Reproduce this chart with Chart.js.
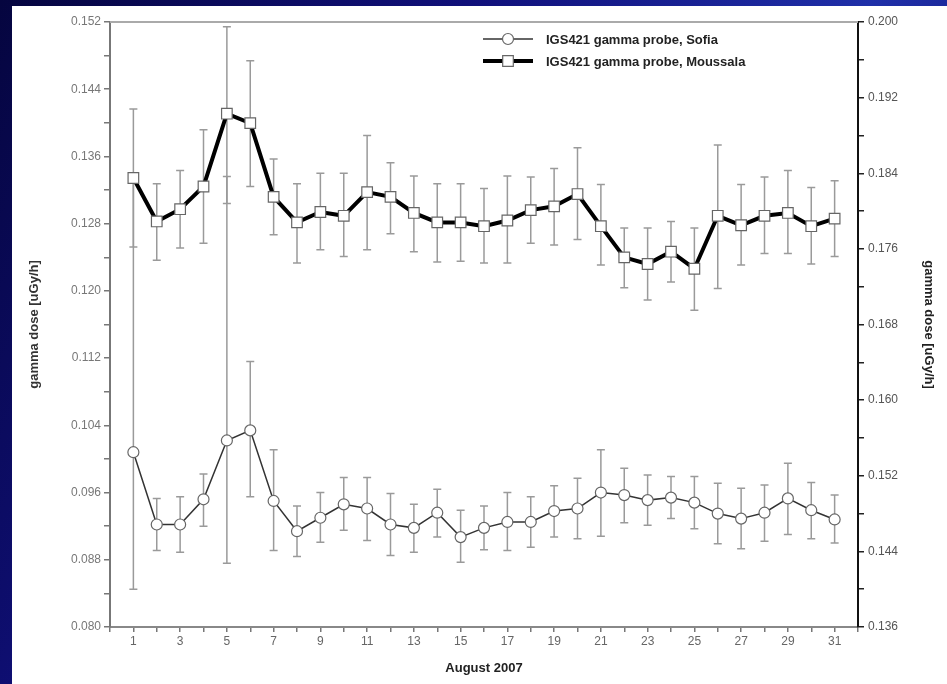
<!DOCTYPE html>
<html>
<head>
<meta charset="utf-8">
<script src="https://cdn.jsdelivr.net/npm/chart.js@4.4.1/dist/chart.umd.min.js"></script>
<style>
    html, body { margin: 0; padding: 0; }
    body {
        width: 947px;
        height: 684px;
        overflow: hidden;
        position: relative;
        background: linear-gradient(120deg, #05053f 0%, #10107a 35%, #1f2fa8 65%, #0c0c66 100%);
    }
    #wrap {
        position: absolute;
        left: 12px;
        top: 6px;
        width: 935px;
        height: 678px;
        background: #fff;
    }
</style>
</head>
<body>
<div id="wrap"><canvas id="doseChart"></canvas></div>
<script>
// --- DATA ---
const days = [1, 2, 3, 4, 5, 6, 7, 8, 9, 10, 11, 12, 13, 14, 15, 16, 17, 18, 19, 20, 21, 22, 23, 24, 25, 26, 27, 28, 29, 30, 31];

// Sofia (left axis)
const sofiaDose = [0.1008, 0.0922, 0.0922, 0.0952, 0.1022, 0.1034, 0.0950, 0.0914, 0.0930, 0.0946, 0.0941, 0.0922, 0.0918, 0.0936, 0.0907, 0.0918, 0.0925, 0.0925, 0.0938, 0.0941, 0.0960, 0.0957, 0.0951, 0.0954, 0.0948, 0.0935, 0.0929, 0.0936, 0.0953, 0.0939, 0.0928];
const sofiaHigh = [0.1338, 0.0953, 0.0955, 0.0982, 0.1336, 0.1116, 0.1011, 0.0944, 0.0960, 0.0978, 0.0978, 0.0959, 0.0946, 0.0964, 0.0939, 0.0944, 0.0960, 0.0955, 0.0968, 0.0977, 0.1011, 0.0989, 0.0981, 0.0979, 0.0979, 0.0971, 0.0965, 0.0969, 0.0995, 0.0972, 0.0957];
const sofiaLow = [0.0845, 0.0891, 0.0889, 0.0920, 0.0876, 0.0955, 0.0891, 0.0884, 0.0901, 0.0915, 0.0903, 0.0885, 0.0889, 0.0907, 0.0877, 0.0892, 0.0891, 0.0895, 0.0907, 0.0905, 0.0908, 0.0924, 0.0921, 0.0929, 0.0917, 0.0899, 0.0893, 0.0902, 0.0910, 0.0905, 0.0900];

// Moussala (right axis)
const moussalaDose = [0.1835, 0.1789, 0.1802, 0.1826, 0.1903, 0.1893, 0.1815, 0.1788, 0.1799, 0.1795, 0.1820, 0.1815, 0.1798, 0.1788, 0.1788, 0.1784, 0.1790, 0.1801, 0.1805, 0.1818, 0.1784, 0.1751, 0.1744, 0.1757, 0.1739, 0.1795, 0.1785, 0.1795, 0.1798, 0.1784, 0.1792];
const moussalaHigh = [0.1908, 0.1829, 0.1843, 0.1886, 0.1995, 0.1959, 0.1855, 0.1829, 0.1840, 0.1840, 0.1880, 0.1851, 0.1837, 0.1829, 0.1829, 0.1824, 0.1837, 0.1836, 0.1845, 0.1867, 0.1828, 0.1782, 0.1782, 0.1789, 0.1782, 0.1870, 0.1828, 0.1836, 0.1843, 0.1825, 0.1832];
const moussalaLow = [0.1762, 0.1748, 0.1761, 0.1766, 0.1808, 0.1826, 0.1775, 0.1745, 0.1759, 0.1752, 0.1759, 0.1776, 0.1757, 0.1746, 0.1747, 0.1745, 0.1745, 0.1766, 0.1764, 0.1770, 0.1743, 0.1719, 0.1706, 0.1725, 0.1695, 0.1718, 0.1743, 0.1755, 0.1755, 0.1744, 0.1752];

const seriesLabels = ["IGS421 gamma probe, Sofia", "IGS421 gamma probe, Moussala"];
const xTitle = "August 2007";
const yTitle = "gamma dose [uGy/h]";

const FONT = "'Liberation Sans', Arial, sans-serif";

// label every second step (0.008), minor ticks at 0.004
function doseTick(v) {
    return Math.round(v / 0.004) % 2 === 0 ? v.toFixed(3) : "";
}

// --- PLUGINS ---

// vertical error bars with caps, drawn under the lines
const errorBars = {
    id: "errorBars",
    beforeDatasetsDraw(chart) {
        const ctx = chart.ctx;
        const xs = chart.scales.x;
        ctx.save();
        ctx.strokeStyle = "#9a9a9a";
        ctx.lineWidth = 1.5;
        chart.data.datasets.forEach((ds) => {
            const ys = chart.scales[ds.yAxisID];
            days.forEach((d, i) => {
                const x = xs.getPixelForValue(d);
                const yt = ys.getPixelForValue(ds.errHigh[i]);
                const yb = ys.getPixelForValue(ds.errLow[i]);
                ctx.beginPath();
                ctx.moveTo(x, yt);
                ctx.lineTo(x, yb);
                ctx.moveTo(x - 4, yt);
                ctx.lineTo(x + 4, yt);
                ctx.moveTo(x - 4, yb);
                ctx.lineTo(x + 4, yb);
                ctx.stroke();
            });
        });
        ctx.restore();
    },
};

// top frame line + legend inside the plot
const frameAndLegend = {
    id: "frameAndLegend",
    afterDraw(chart) {
        const ctx = chart.ctx;
        const a = chart.chartArea;
        ctx.save();
        ctx.strokeStyle = "#aaa";
        ctx.lineWidth = 2;
        ctx.beginPath();
        ctx.moveTo(a.left, a.top);
        ctx.lineTo(a.right, a.top);
        ctx.stroke();

        const lx = a.left + 373;
        chart.data.datasets.forEach((ds, i) => {
            const y = a.top + 17 + i * 22;
            ctx.strokeStyle = ds.borderColor;
            ctx.lineWidth = ds.borderWidth;
            ctx.beginPath();
            ctx.moveTo(lx, y);
            ctx.lineTo(lx + 50, y);
            ctx.stroke();
            ctx.fillStyle = "#fff";
            ctx.strokeStyle = ds.pointBorderColor;
            ctx.lineWidth = ds.pointBorderWidth;
            ctx.beginPath();
            if (ds.pointStyle === "rect") {
                const s = ds.pointRadius * Math.SQRT1_2;
                ctx.rect(lx + 25 - s, y - s, 2 * s, 2 * s);
            } else {
                ctx.arc(lx + 25, y, ds.pointRadius, 0, Math.PI * 2);
            }
            ctx.fill();
            ctx.stroke();
            ctx.fillStyle = "#222";
            ctx.font = "bold 13px " + FONT;
            ctx.textBaseline = "middle";
            ctx.textAlign = "left";
            ctx.fillText(ds.label, lx + 63, y + 1);
        });
        ctx.restore();
    },
};

// --- CHART ---
const ctxDose = document.getElementById("doseChart").getContext("2d");

new Chart(ctxDose, {
    type: "line",
    data: {
        datasets: [
            {
                label: seriesLabels[0],
                data: days.map((d, i) => ({ x: d, y: sofiaDose[i] })),
                yAxisID: "y",
                errHigh: sofiaHigh,
                errLow: sofiaLow,
                borderColor: "#333",
                borderWidth: 1.5,
                pointStyle: "circle",
                pointRadius: 5.5,
                pointBackgroundColor: "#fff",
                pointBorderColor: "#666",
                pointBorderWidth: 1.2,
                tension: 0,
            },
            {
                label: seriesLabels[1],
                data: days.map((d, i) => ({ x: d, y: moussalaDose[i] })),
                yAxisID: "y1",
                errHigh: moussalaHigh,
                errLow: moussalaLow,
                borderColor: "#000",
                borderWidth: 4,
                pointStyle: "rect",
                pointRadius: 7.5,
                pointBackgroundColor: "#fff",
                pointBorderColor: "#666",
                pointBorderWidth: 1.2,
                tension: 0,
            },
        ],
    },
    options: {
        responsive: true,
        maintainAspectRatio: false,
        animation: false,
        layout: { padding: { top: 16, left: 0, right: 0, bottom: 0 } },
        scales: {
            x: {
                type: "linear",
                min: 0,
                max: 32,
                afterFit(scale) { scale.height = 57; },
                border: { color: "#888", width: 2 },
                grid: { drawOnChartArea: false, color: "#777", tickLength: 5, lineWidth: 1.5 },
                ticks: {
                    stepSize: 1,
                    autoSkip: false,
                    maxRotation: 0,
                    color: "#666",
                    padding: 2,
                    font: { family: FONT, size: 12 },
                    callback: (v) => (v % 2 === 1 ? String(v) : ""),
                },
                title: {
                    display: true,
                    text: xTitle,
                    color: "#222",
                    font: { family: FONT, size: 13, weight: "bold" },
                    padding: { top: 0, bottom: 8 },
                },
            },
            y: {
                type: "linear",
                position: "left",
                min: 0.080,
                max: 0.152,
                afterFit(scale) { scale.width = 98; },
                border: { color: "#777", width: 2 },
                grid: { drawOnChartArea: false, color: "#777", tickLength: 6, lineWidth: 1.5 },
                ticks: {
                    stepSize: 0.004,
                    autoSkip: false,
                    color: "#777",
                    padding: 3,
                    font: { family: FONT, size: 12 },
                    callback: doseTick,
                },
                title: {
                    display: true,
                    text: yTitle,
                    color: "#333",
                    font: { family: FONT, size: 13, weight: "bold" },
                    padding: { top: 15, bottom: 0 },
                },
            },
            y1: {
                type: "linear",
                position: "right",
                min: 0.136,
                max: 0.200,
                afterFit(scale) { scale.width = 89; },
                border: { color: "#111", width: 2 },
                grid: { drawOnChartArea: false, color: "#222", tickLength: 6, lineWidth: 1.5 },
                ticks: {
                    stepSize: 0.004,
                    autoSkip: false,
                    color: "#555",
                    padding: 4,
                    font: { family: FONT, size: 12 },
                    callback: doseTick,
                },
                title: {
                    display: true,
                    text: yTitle,
                    color: "#222",
                    font: { family: FONT, size: 13, weight: "bold" },
                    padding: { top: 11, bottom: 0 },
                },
            },
        },
        plugins: {
            legend: { display: false },
            tooltip: { enabled: false },
        },
    },
    plugins: [errorBars, frameAndLegend],
});
</script>
</body>
</html>
